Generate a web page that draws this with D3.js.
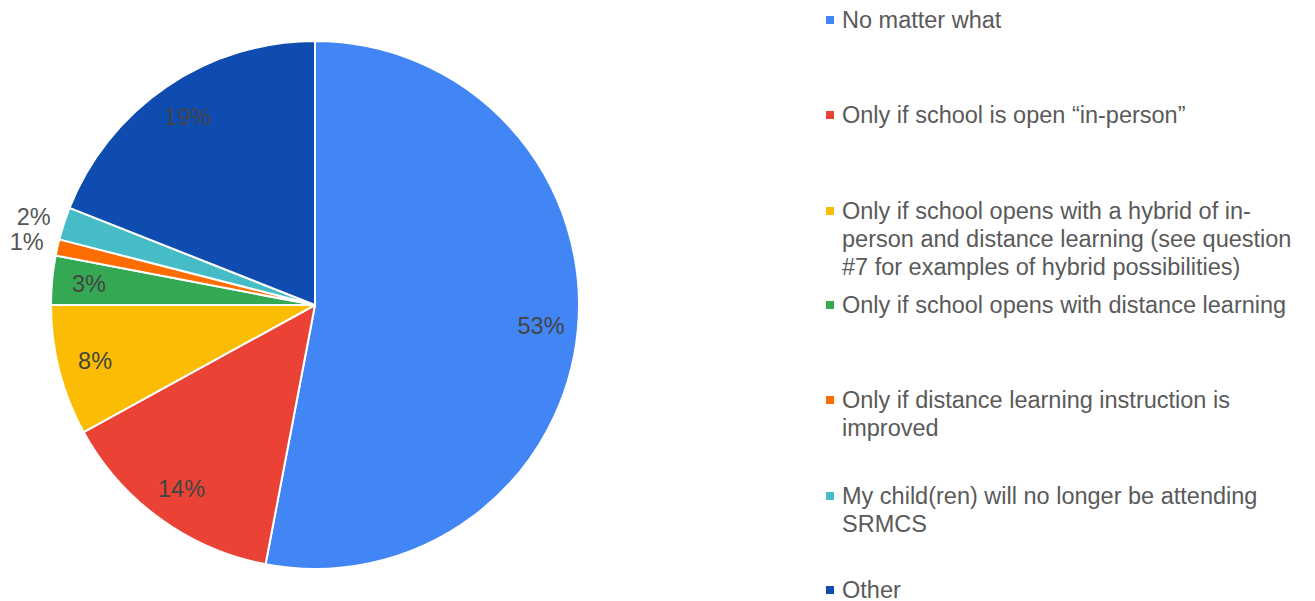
<!DOCTYPE html>
<html>
<head>
<meta charset="utf-8">
<script src="https://cdn.jsdelivr.net/npm/d3@7"></script>
<style>
  html, body { margin: 0; padding: 0; background: #fff; }
  svg { display: block; font-family: "Liberation Sans", Arial, sans-serif; }
</style>
</head>
<body>
<svg id="chart" width="1315" height="601"></svg>
<script>
// Survey answers and their shares (percent)
const categories = [
  "No matter what",
  "Only if school is open \u201cin-person\u201d",
  "Only if school opens with a hybrid of in-|person and distance learning (see question|#7 for examples of hybrid possibilities)",
  "Only if school opens with distance learning",
  "Only if distance learning instruction is|improved",
  "My child(ren) will no longer be attending|SRMCS",
  "Other"
];
const values = [53, 14, 8, 3, 1, 2, 19];
const colors = ["#4285F4", "#EA4335", "#FBBC04", "#34A853", "#FF6D01", "#46BDC6", "#0F4CB0"];
// Row position (top line centre) of each legend entry
const legendRows = [20, 115, 211, 305, 400, 496, 590];

const svg = d3.select("#chart");
const cx = 315, cy = 305, radius = 264;
const fontSize = 23.5;

const pie = d3.pie().value(d => d).sort(null);
const arcs = pie(values);
const arc = d3.arc().innerRadius(0).outerRadius(radius);
const labelArc = d3.arc().innerRadius(radius * 0.86).outerRadius(radius * 0.86);

const g = svg.append("g").attr("transform", `translate(${cx},${cy})`);

g.selectAll("path.slice")
  .data(arcs)
  .enter().append("path")
  .attr("class", "slice")
  .attr("d", arc)
  .attr("fill", (d, i) => colors[i])
  .attr("stroke", "#fff")
  .attr("stroke-width", 2)
  .attr("stroke-linejoin", "round");

// Percentage labels: inside for larger slices, outside (right-aligned) for tiny ones
arcs.forEach((d, i) => {
  const pct = values[i] + "%";
  const small = values[i] < 3;
  if (!small) {
    const [x, y] = labelArc.centroid(d);
    g.append("text")
      .attr("x", x).attr("y", y)
      .attr("text-anchor", "middle")
      .attr("dominant-baseline", "central")
      .attr("font-size", fontSize)
      .attr("fill", "#444")
      .text(pct);
  } else {
    const a = (d.startAngle + d.endAngle) / 2;
    const rr = radius + 14;
    const x = Math.sin(a) * rr, y = -Math.cos(a) * rr;
    g.append("text")
      .attr("x", x).attr("y", y - 2)
      .attr("text-anchor", "end")
      .attr("dominant-baseline", "central")
      .attr("font-size", fontSize)
      .attr("fill", "#555")
      .text(pct);
  }
});

// Legend
const legend = svg.append("g");
categories.forEach((c, i) => {
  const y0 = legendRows[i];
  legend.append("rect")
    .attr("x", 826).attr("y", y0 - 4)
    .attr("width", 8).attr("height", 8)
    .attr("fill", colors[i]);
  const t = legend.append("text")
    .attr("font-size", fontSize)
    .attr("fill", "#5a5a5a");
  c.split("|").forEach((line, j) => {
    t.append("tspan")
      .attr("x", 842)
      .attr("y", y0 + j * 28)
      .attr("dominant-baseline", "central")
      .text(line);
  });
});
</script>
</body>
</html>
